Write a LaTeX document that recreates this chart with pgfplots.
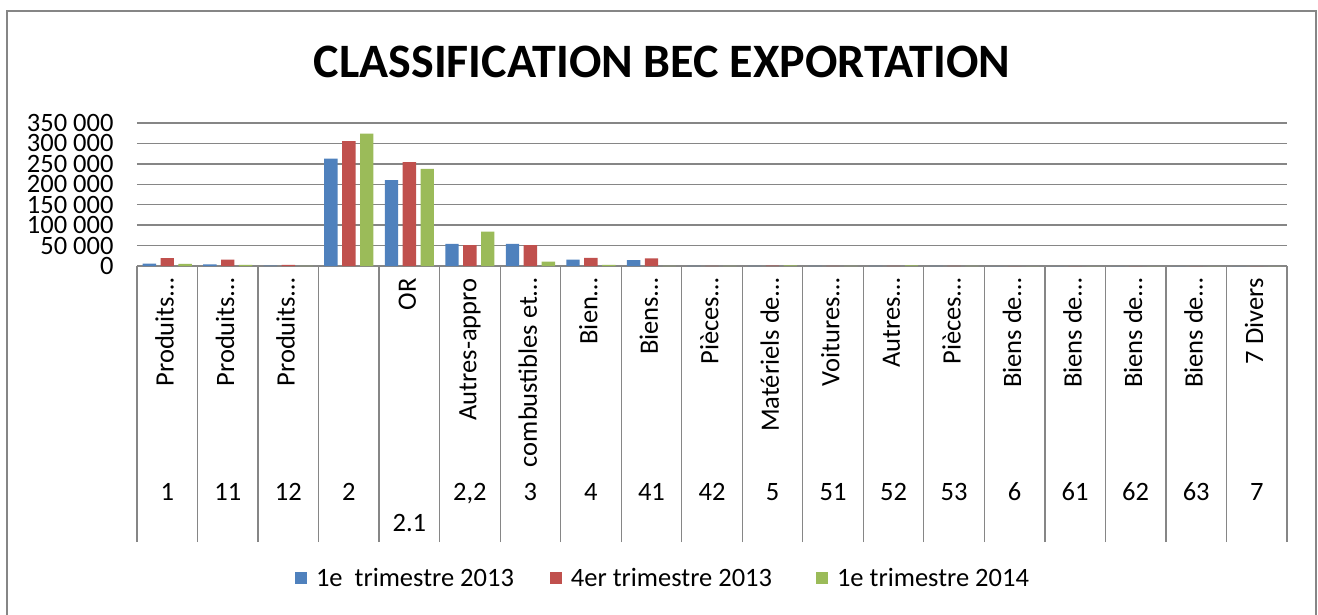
\documentclass[border=0pt]{standalone}
\usepackage{fontspec}
\setmainfont{Carlito}
\usepackage{pgfplots}
\pgfplotsset{compat=1.18}
\definecolor{xblue}{HTML}{4F81BD}
\definecolor{xred}{HTML}{C0504D}
\definecolor{xgreen}{HTML}{9BBB59}
\definecolor{xgray}{HTML}{868686}
\begin{document}
\begin{tikzpicture}[x=1pt,y=1pt]
\useasboundingbox (0,0) rectangle (1318,614);
\draw[xgray, line width=2pt] (7,-5) -- (7,603) -- (1316,603) -- (1316,-5);
\node[font=\fontsize{48}{57}\selectfont\bfseries] at (662,552) {CLASSIFICATION BEC EXPORTATION};
\begin{axis}[
  at={(137pt,348pt)}, anchor=south west,
  width=1150pt, height=143pt, scale only axis,
  xmin=-0.5, xmax=18.5, ymin=0, ymax=350000,
  ybar=4.5pt, bar width=13.4pt,
  axis line style={draw=none},
  scaled y ticks=false,
  ytick={0,50000,100000,150000,200000,250000,300000,350000},
  yticklabels={0,50 000,100 000,150 000,200 000,250 000,300 000,350 000},
  ymajorgrids, grid style={xgray, line width=1.5pt},
  major tick length=0pt,
  xticklabel style={font=\fontsize{26.5}{32}\selectfont},
  yticklabel style={font=\fontsize{26.5}{32}\selectfont, xshift=-20pt},
  /pgf/number format/assume math mode=true,
  xtick={0,...,18},
  xticklabels={
    \rotatebox{90}{\strut Produits…},
    \rotatebox{90}{\strut Produits…},
    \rotatebox{90}{\strut Produits…},
    {},
    \rotatebox{90}{\strut OR},
    \rotatebox{90}{\strut Autres-appro},
    \rotatebox{90}{\strut combustibles et…},
    \rotatebox{90}{\strut Bien…},
    \rotatebox{90}{\strut Biens…},
    \rotatebox{90}{\strut Pièces…},
    \rotatebox{90}{\strut Matériels de…},
    \rotatebox{90}{\strut Voitures…},
    \rotatebox{90}{\strut Autres…},
    \rotatebox{90}{\strut Pièces…},
    \rotatebox{90}{\strut Biens de…},
    \rotatebox{90}{\strut Biens de…},
    \rotatebox{90}{\strut Biens de…},
    \rotatebox{90}{\strut Biens de…},
    \rotatebox{90}{\strut 7 Divers}},
  xticklabel style={anchor=north, yshift=-9pt},
  extra x ticks={0,...,18},
  extra x tick labels={1,11,12,2,\raisebox{-31pt}{2.1},{2,2},3,4,41,42,5,51,52,53,6,61,62,63,7},
  extra x tick style={xticklabel style={anchor=base, yshift=-225pt}, grid=none},
  minor xtick={-0.5,0.5,...,18.5},
  minor tick length=276pt,
  tick align=outside,
  xtick pos=bottom, ytick pos=left,
  minor tick style={xgray, line width=1.3pt},
  legend style={at={(0.1374,-2.182)}, anchor=west, draw=none, fill=none,
    inner sep=0pt, outer sep=0pt,
    legend columns=3, font=\fontsize{26.5}{31}\selectfont},
  legend cell align=left,
  legend image code/.code={\fill[#1] (0pt,-6pt) rectangle (12pt,6pt); \path (19pt,0pt);},
]
\addplot[fill=xblue, draw=none] coordinates {(0,6000) (1,4000) (2,1000) (3,263000) (4,210000) (5,54000) (6,54000) (7,15500) (8,14500) (9,500) (10,500) (11,300) (12,300) (13,200) (14,0) (15,0) (16,0) (17,0) (18,0)};
\addplot[fill=xred, draw=none] coordinates {(0,19500) (1,15500) (2,3000) (3,305500) (4,254500) (5,51000) (6,51000) (7,20000) (8,18500) (9,500) (10,1000) (11,300) (12,300) (13,200) (14,0) (15,0) (16,0) (17,0) (18,0)};
\addplot[fill=xgreen, draw=none] coordinates {(0,5500) (1,3000) (2,500) (3,324000) (4,237500) (5,84000) (6,10500) (7,3000) (8,500) (9,300) (10,1500) (11,300) (12,1500) (13,300) (14,0) (15,0) (16,0) (17,0) (18,0)};
\legend{1e\ \ trimestre 2013\rule{34pt}{0pt}, 4er trimestre 2013\rule{42pt}{0pt}, 1e trimestre 2014}
\end{axis}
\end{tikzpicture}
\end{document}
